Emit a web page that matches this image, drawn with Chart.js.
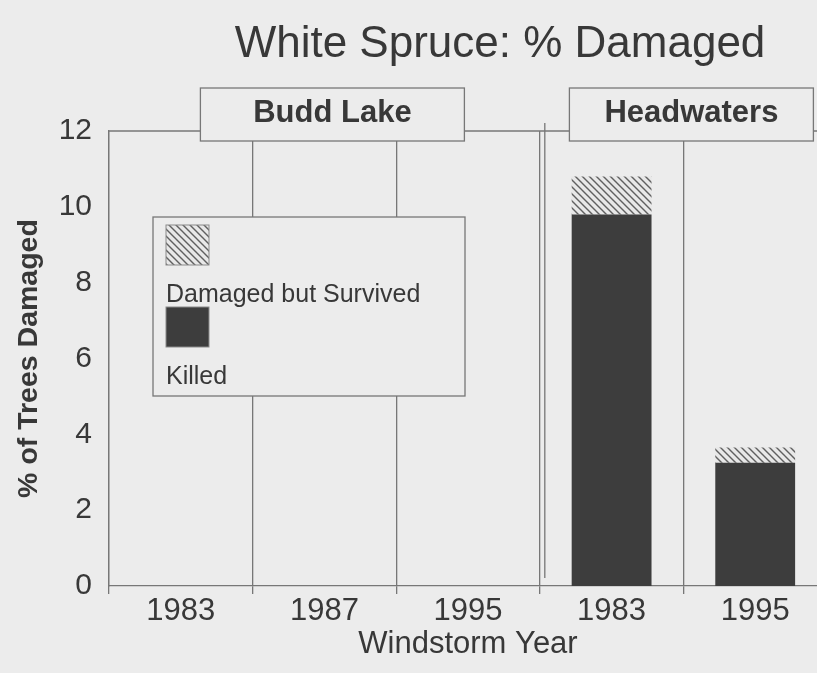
<!DOCTYPE html>
<html>
<head>
<meta charset="utf-8">
<title>White Spruce: % Damaged</title>
<script src="https://cdn.jsdelivr.net/npm/chart.js@4.4.1/dist/chart.umd.min.js"></script>
<style>
  html, body { margin: 0; padding: 0; background: #ececec; overflow: hidden; }
  #wrap { width: 840px; height: 673px; }
</style>
</head>
<body>
<div id="wrap"><canvas id="myChart" width="840" height="673"></canvas></div>
<script>
// data
const years = ['1983', '1987', '1995', '1983', '1995'];
const killed = [0, 0, 0, 9.8, 3.25];
const damagedSurvived = [0, 0, 0, 1.0, 0.4];
const groupNames = ['Budd Lake', 'Headwaters'];
const groupFirst = [0, 3];
const groupLast = [2, 4];
const yTicks = [0, 2, 4, 6, 8, 10, 12];

const textColor = '#383838';
const lineColor = '#777777';
const bgColor = '#ececec';
const darkBar = '#3d3d3d';

// diagonal hatch for "Damaged but Survived"
function makeHatch() {
  var c = document.createElement('canvas');
  c.width = 7; c.height = 7;
  var g = c.getContext('2d');
  g.fillStyle = '#e8e8e8';
  g.fillRect(0, 0, 7, 7);
  g.strokeStyle = '#606060';
  g.lineWidth = 1.4;
  g.beginPath();
  g.moveTo(-1, -1); g.lineTo(8, 8);
  g.moveTo(-1, 6); g.lineTo(1, 8);
  g.moveTo(6, -1); g.lineTo(8, 1);
  g.stroke();
  return document.getElementById('myChart').getContext('2d').createPattern(c, 'repeat');
}
var hatch = makeHatch();

// background, title, group boxes, double divider, legend box
const decorations = {
  id: 'decorations',
  beforeDraw(chart) {
    const ctx = chart.ctx;
    ctx.save();
    ctx.fillStyle = bgColor;
    ctx.fillRect(0, 0, chart.width, chart.height);
    ctx.restore();
  },
  afterDraw(chart) {
    const ctx = chart.ctx;
    const area = chart.chartArea;
    const x = chart.scales.x;
    ctx.save();
    ctx.strokeStyle = lineColor;
    ctx.lineWidth = 1.3;

    // top frame line
    ctx.beginPath();
    ctx.moveTo(area.left, area.top);
    ctx.lineTo(area.right, area.top);
    ctx.stroke();

    // second line of the double divider between the sites
    var half = (x.getPixelForValue(1) - x.getPixelForValue(0)) / 2;
    var divX = x.getPixelForValue(groupLast[0]) + half + 5;
    ctx.beginPath();
    ctx.moveTo(divX, area.top - 8);
    ctx.lineTo(divX, area.bottom - 8);
    ctx.stroke();

    // site label boxes
    var boxW = [264, 244];
    ctx.font = 'bold 31px "Liberation Sans", Arial, sans-serif';
    ctx.textAlign = 'center';
    ctx.textBaseline = 'middle';
    for (var i = 0; i < groupNames.length; i++) {
      var cx = (x.getPixelForValue(groupFirst[i]) + x.getPixelForValue(groupLast[i])) / 2 + 8;
      var bx = cx - boxW[i] / 2;
      var by = area.top - 43;
      ctx.fillStyle = bgColor;
      ctx.fillRect(bx, by, boxW[i], 53);
      ctx.strokeRect(bx, by, boxW[i], 53);
      ctx.fillStyle = textColor;
      ctx.fillText(groupNames[i], cx, by + 25);
    }

    // legend box
    var lx = area.left + 44, ly = area.top + 86;
    ctx.fillStyle = bgColor;
    ctx.fillRect(lx, ly, 312, 179);
    ctx.strokeRect(lx, ly, 312, 179);
    var items = chart.data.datasets.slice().reverse();
    ctx.font = '25px "Liberation Sans", Arial, sans-serif';
    ctx.textAlign = 'left';
    ctx.textBaseline = 'alphabetic';
    items.forEach(function (ds, k) {
      var sy = ly + 8 + k * 82;
      ctx.fillStyle = ds.backgroundColor;
      ctx.fillRect(lx + 13, sy, 43, 40);
      ctx.strokeStyle = '#8a8a8a';
      ctx.lineWidth = 1;
      ctx.strokeRect(lx + 13, sy, 43, 40);
      ctx.fillStyle = textColor;
      ctx.fillText(ds.label, lx + 13, sy + 77);
    });

    // chart title
    ctx.font = '44px "Liberation Sans", Arial, sans-serif';
    ctx.textAlign = 'center';
    ctx.fillStyle = textColor;
    ctx.fillText('White Spruce: % Damaged', 500, 57);
    ctx.restore();
  }
};

var ctx = document.getElementById('myChart').getContext('2d');
var myChart = new Chart(ctx, {
  type: 'bar',
  data: {
    labels: years,
    datasets: [{
      label: 'Killed',
      data: killed,
      backgroundColor: darkBar,
      borderWidth: 0
    }, {
      label: 'Damaged but Survived',
      data: damagedSurvived,
      backgroundColor: hatch,
      borderWidth: 0
    }]
  },
  options: {
    responsive: false,
    animation: false,
    layout: { padding: { top: 131, right: 13, bottom: 13, left: 0 } },
    categoryPercentage: 0.556,
    barPercentage: 1,
    plugins: {
      legend: { display: false },
      tooltip: { enabled: false }
    },
    scales: {
      x: {
        stacked: true,
        grid: { offset: true, color: lineColor, lineWidth: 1.3, tickLength: 8, drawOnChartArea: true },
        border: { color: lineColor, width: 1.3 },
        ticks: { color: textColor, padding: 2, font: { family: '"Liberation Sans", Arial, sans-serif', size: 31, lineHeight: 1 } },
        title: {
          display: true,
          text: 'Windstorm Year',
          color: textColor,
          padding: 0,
          font: { family: '"Liberation Sans", Arial, sans-serif', size: 31, lineHeight: 1 }
        }
      },
      y: {
        stacked: true,
        min: 0,
        max: 12,
        afterBuildTicks: function (scale) {
          scale.ticks = yTicks.map(function (v) { return { value: v }; });
        },
        afterFit: function (scale) { scale.width = 109; },
        grid: { display: false, drawTicks: false },
        border: { color: lineColor, width: 1.3 },
        ticks: { color: textColor, padding: 17, font: { family: '"Liberation Sans", Arial, sans-serif', size: 30 } },
        title: {
          display: true,
          text: '% of Trees Damaged',
          color: textColor,
          padding: { top: 12, bottom: 0 },
          font: { family: '"Liberation Sans", Arial, sans-serif', size: 28.5, weight: 'bold', lineHeight: 1.2 }
        }
      }
    }
  },
  plugins: [decorations]
});
</script>
</body>
</html>
